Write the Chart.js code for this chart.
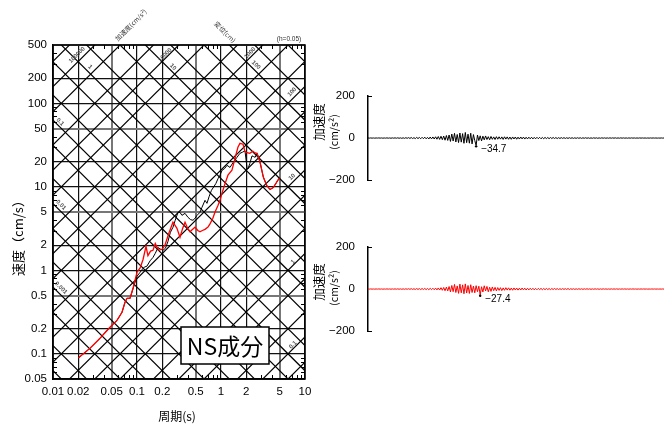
<!DOCTYPE html>
<html><head><meta charset="utf-8">
<script src="https://cdn.jsdelivr.net/npm/chart.js"></script>
<style>
html,body{margin:0;padding:0;background:#fff;}
#wrap{position:relative;width:664px;height:424px;overflow:hidden;background:#fff;}
canvas{position:absolute;}
</style></head><body>
<div id="wrap">
<canvas id="spec" style="left:0;top:0" width="320" height="424"></canvas>
<canvas id="acc1" style="left:300px;top:70px" width="364" height="130"></canvas>
<canvas id="acc2" style="left:300px;top:221px" width="364" height="130"></canvas>
</div>
<script>
// ---- tick labels ----
const periodTicks = [0.01,0.02,0.05,0.1,0.2,0.5,1,2,5,10];
const velocityTicks = [0.05,0.1,0.2,0.5,1,2,5,10,20,50,100,200,500];
// tripartite diagonal grid levels
const dispLevels = [0.0001,0.0002,0.0005,0.001,0.002,0.005,0.01,0.02,0.05,0.1,0.2,0.5,1,2,5,10,20,50,100,200,500,1000];
const accLevels = [0.01,0.02,0.05,0.1,0.2,0.5,1,2,5,10,20,50,100,200,500,1000,2000,5000,10000,20000,50000,100000,200000,500000,1000000];
const dispLabelsTopLeft = ['1','10','100','0.1','0.01','0.001'];
const accLabelsTopRight = ['100000','10000','1000','100','10','1','0.1'];

// ---- velocity response spectra ----
const blackPeriods = [0.02,0.0276,0.0363,0.0476,0.0578,0.0663,0.072,0.076,0.0826,0.0896,
 0.1,0.109,0.118,0.124,0.131,0.143,0.155,0.165,0.178,0.19,
 0.204,0.218,0.233,0.25,0.268,0.285,0.308,0.325,0.343,0.373,
 0.405,0.435,0.464,0.49,0.518,0.562,0.594,0.645,0.681,0.72,
 0.77,0.83,0.87,0.92,0.973,1.03,1.1,1.18,1.28,1.39,
 1.55,1.68,1.8,1.93,2.04,2.1,2.2,2.34,2.45,2.55,
 2.69,2.91,3.19,3.5,3.83,4.19,4.93];
const blackVelocity = [0.089,0.117,0.154,0.208,0.252,0.315,0.415,0.463,0.463,0.6,
 0.85,0.95,1.06,1.1,1.12,1.3,1.43,1.6,1.87,1.8,
 1.74,1.84,2.2,2.86,3.28,3.98,4.95,4.95,4.56,4.82,
 4.31,4.05,3.98,4.2,4.56,4.95,5.69,6.9,6.35,7.6,
 9.1,10.2,11.0,12.5,13.8,15.8,16.5,18.1,17.1,19.5,
 22.6,25.2,26.0,27.0,17.0,16.5,19.0,23.5,23.0,22.6,
 25.2,19.9,13.1,10.4,9.3,9.8,12.7];
const redPeriods = [0.02,0.0276,0.0363,0.0476,0.0578,0.0663,0.072,0.076,0.0826,0.0896,
 0.1,0.109,0.118,0.128,0.135,0.145,0.155,0.165,0.173,0.183,
 0.2,0.215,0.24,0.268,0.299,0.325,0.35,0.373,0.4,0.427,
 0.46,0.49,0.53,0.562,0.6,0.645,0.7,0.74,0.8,0.849,
 0.92,0.973,1.05,1.12,1.21,1.35,1.47,1.59,1.68,1.83,
 1.92,2.0,2.2,2.4,2.55,2.69,2.91,3.19,3.5,3.83,
 4.19,4.93];
const redVelocity = [0.089,0.117,0.154,0.208,0.252,0.315,0.415,0.463,0.463,0.61,
 0.95,1.07,1.35,1.94,1.5,1.7,1.74,2.1,1.9,1.74,
 1.8,2.0,2.8,3.77,3.19,2.49,3.2,3.77,3.2,2.9,
 3.1,3.28,3.0,2.9,3.0,3.1,3.3,3.6,4.2,5.0,
 6.0,6.9,9.0,11.0,13.8,15.8,22.0,29.8,33.2,32.4,
 27.0,25.9,25.2,26.7,25.5,25.2,19.9,13.1,10.4,9.3,
 9.8,12.7];

// ---- acceleration time histories (cm/s^2) ----
const accTicks = [-200,0,200];
const accBlack = [
 0.5,-0.4,0.6,-0.5,0.4,-0.6,0.5,-0.3,0.7,-0.5,0.6,-0.8,0.5,-0.6,0.9,-0.7,0.6,-1.0,0.8,-0.6,
 1.0,-0.9,1.2,-1.0,0.8,-1.3,1.1,-1.4,1.6,-1.2,2.0,-1.8,2.4,-2.1,1.8,-2.6,3.0,-2.4,2.8,-3.2,
 3.5,-2.9,4.1,-3.6,3.2,-4.4,4.8,-3.9,5.2,-4.6,6.0,-5.5,7.2,-6.4,8.5,-7.8,9.6,-10.2,12.0,-11.3,
 14.5,-16.0,19.0,-14.2,22.5,-18.8,17.0,-21.5,24.0,-19.5,21.0,-25.0,26.5,-22.0,18.5,-24.5,23.0,-28.0,16.5,-12.0,
 -34.7,14.5,-12.0,10.5,-13.5,9.0,-8.5,10.0,-7.0,6.5,-8.0,7.5,-6.0,5.5,-7.0,6.5,-5.5,6.0,-5.0,5.5,
 -6.5,6.0,-5.0,5.5,-5.8,4.8,-6.0,5.2,-4.5,5.0,-5.5,4.2,-4.8,5.0,-4.0,4.5,-4.8,3.8,-4.2,4.0,
 -3.5,3.8,-4.0,3.2,-3.6,3.5,-3.0,3.2,-3.4,2.8,-3.0,3.0,-2.6,2.5,-2.8,2.4,-2.2,2.6,-2.0,2.2,
 -2.4,1.8,-2.0,2.0,-1.6,1.8,-1.9,1.5,-1.7,1.6,-1.4,1.5,-1.6,1.2,-1.4,1.5,-1.2,1.3,-1.5,1.2,
 -1.0,1.4,-1.1,1.0,-1.3,0.9,-1.1,1.2,-0.9,1.0,-1.2,0.8,-1.0,1.1,-0.8,0.9,-1.0,0.7,-0.9,1.0,
 -0.8,0.9,-0.7,1.0,-0.9,0.7,-0.8,0.9,-0.6,0.8,-0.7,0.6,-0.8,0.7,-0.6,0.8,-0.5,0.6,-0.7,0.5,
 -0.6,0.7,-0.5,0.6,-0.4,0.5,-0.6,0.4,-0.5,0.6,-0.4,0.5,-0.3,0.4,-0.5,0.3,-0.4,0.5,-0.3,0.4];
const accRed = [
 0.4,-0.3,0.5,-0.4,0.3,-0.5,0.4,-0.3,0.6,-0.4,0.5,-0.6,0.4,-0.5,0.7,-0.5,0.5,-0.7,0.6,-0.5,
 0.8,-0.7,0.9,-0.8,0.7,-1.0,0.9,-1.1,1.2,-1.0,1.5,-1.3,1.7,-1.5,1.4,-1.9,2.1,-1.7,2.0,-2.3,
 2.5,-2.1,2.9,-2.6,2.4,-3.0,3.4,-2.8,3.8,-3.3,4.4,-4.0,5.2,-4.6,6.5,-5.8,7.5,-8.0,9.5,-8.8,
 12.0,-13.5,17.0,-12.5,22.0,-16.5,15.0,-20.5,23.5,-18.0,20.0,-22.5,24.5,-19.0,17.0,-21.0,20.5,-16.5,14.0,-18.0,
 16.0,-12.5,13.5,-27.4,11.0,-14.0,15.5,-9.0,12.5,-13.0,8.5,-11.0,10.0,-7.5,8.0,-9.0,7.0,-6.5,6.5,-7.5,
 5.5,-6.0,6.5,-5.0,5.8,-5.5,4.8,-5.6,5.2,-4.6,4.8,-5.0,4.2,-4.6,4.8,-3.8,4.2,-4.5,3.6,-4.0,
 3.8,-3.4,3.6,-3.8,3.0,-3.4,3.2,-2.8,3.0,-3.1,2.6,-2.8,2.8,-2.4,2.3,-2.6,2.2,-2.0,2.4,-1.9,
 2.0,-2.2,1.7,-1.9,1.9,-1.5,1.7,-1.8,2.4,-2.2,1.5,-1.3,1.4,-1.5,1.1,-1.3,1.4,-1.1,1.2,-1.4,
 1.1,-0.9,1.3,-1.0,0.9,-1.2,0.8,-1.0,1.1,-0.8,0.9,-1.1,0.7,-0.9,1.0,-0.7,0.8,-0.9,0.6,-0.8,
 0.9,-0.7,0.8,-0.6,0.9,-0.8,0.6,-0.7,0.8,-0.5,0.7,-0.6,0.5,-0.7,0.6,-0.5,0.7,-0.4,0.5,-0.6,
 0.4,-0.5,0.6,-0.4,0.5,-0.3,0.4,-0.5,0.3,-0.4,0.5,-0.3,0.4,-0.3,0.3,-0.4,0.3,-0.3,0.4,-0.3];

const NUM_FONT = 'Liberation Sans, Arial, sans-serif';
const JP_FONT = '"Noto Sans CJK JP", sans-serif';
const TWO_PI = 2 * Math.PI;

function signif(v){ return Math.round(v / Math.pow(10, Math.floor(Math.log10(v) + 1e-9))); }
function minorValues(lo, hi){
  const out = [];
  for (let e = Math.floor(Math.log10(lo)); e <= Math.ceil(Math.log10(hi)); e++) {
    for (const m of [3,4,6,7,8,9]) { const v = m * Math.pow(10, e); if (v > lo && v < hi) out.push(v); }
  }
  return out;
}

const diagStyle = {borderColor:'#000', borderWidth:1.2, pointRadius:0, fill:false, tension:0, order:3};
const diagSets = [];
dispLevels.forEach(d => diagSets.push(Object.assign({data:[{x:0.01,y:TWO_PI*d/0.01},{x:10,y:TWO_PI*d/10}]}, diagStyle)));
accLevels.forEach(a => diagSets.push(Object.assign({data:[{x:0.01,y:a*0.01/TWO_PI},{x:10,y:a*10/TWO_PI}]}, diagStyle)));

function rotText(ctx, txt, x, y, ang, font, color){
  ctx.save(); ctx.translate(x, y); ctx.rotate(ang);
  ctx.font = font; ctx.fillStyle = color; ctx.textAlign = 'center'; ctx.textBaseline = 'middle';
  ctx.fillText(txt, 0, 0); ctx.restore();
}

const specDecor = {
  id: 'specDecor',
  afterDraw(chart) {
    const {ctx, chartArea: a, scales: {x, y}} = chart;
    ctx.save();
    ctx.strokeStyle = '#000'; ctx.lineWidth = 1;
    ctx.beginPath();
    for (const v of minorValues(0.01, 10)) {
      const px = Math.round(x.getPixelForValue(v)) + 0.5;
      ctx.moveTo(px, a.bottom); ctx.lineTo(px, a.bottom - 4);
      ctx.moveTo(px, a.top); ctx.lineTo(px, a.top + 4);
    }
    for (const v of minorValues(0.05, 500)) {
      const py = Math.round(y.getPixelForValue(v)) + 0.5;
      ctx.moveTo(a.left, py); ctx.lineTo(a.left + 4, py);
      ctx.moveTo(a.right, py); ctx.lineTo(a.right - 4, py);
    }
    ctx.stroke();
    ctx.lineWidth = 1.5;
    ctx.strokeRect(a.left, a.top, a.right - a.left, a.bottom - a.top);

    // small labels on diagonal lines
    const small = 'bold 6px ' + NUM_FONT, sc = '#555';
    const dpos = [[90,67],[173,67],[256,65],[60,122],[61,205],[61,288]];
    dispLabelsTopLeft.forEach((t,i) => rotText(ctx, t, dpos[i][0], dpos[i][1], Math.PI/4, small, sc));
    const apos = [[77,55],[165,55],[250,53],[292,92],[292,177],[293,262],[293,345]];
    accLabelsTopRight.forEach((t,i) => rotText(ctx, t, apos[i][0], apos[i][1], -Math.PI/4, small, sc));
    rotText(ctx, '加速度(cm/s²)', 131, 25, -Math.PI/4, '6.5px ' + JP_FONT, '#333');
    rotText(ctx, '変位(cm)', 225, 32, Math.PI/4, '6.5px ' + JP_FONT, '#333');
    rotText(ctx, '(h=0.05)', 289, 39, 0, '6.5px ' + NUM_FONT, '#333');

    // axis titles
    rotText(ctx, '速度（cm/s）', 18, 235, -Math.PI/2, '13px ' + JP_FONT, '#000');
    rotText(ctx, '周期(s)', 177, 416, 0, '12px ' + JP_FONT, '#000');

    // NS box
    ctx.fillStyle = '#fff'; ctx.fillRect(181, 327, 88, 37);
    ctx.lineWidth = 1.5; ctx.strokeStyle = '#000'; ctx.strokeRect(181, 327, 88, 37);
    rotText(ctx, 'NS成分', 225, 346, 0, '23px ' + JP_FONT, '#000');
    ctx.restore();
  }
};

new Chart(document.getElementById('spec'), {
  type: 'line',
  data: {datasets: [
    {data: redPeriods.map((t,i)=>({x:t, y:redVelocity[i]})), borderColor:'#ff0000', borderWidth:1.3, pointRadius:0, tension:0, order:0},
    {data: blackPeriods.map((t,i)=>({x:t, y:blackVelocity[i]})), borderColor:'#000', borderWidth:1, pointRadius:0, tension:0, order:1},
    ...diagSets
  ]},
  options: {
    responsive:false, animation:false, devicePixelRatio:1,
    layout:{padding:{top:45, right:15, left:0, bottom:0}},
    plugins:{legend:{display:false}, tooltip:{enabled:false}},
    scales:{
      x:{type:'logarithmic', min:0.01, max:10,
        afterBuildTicks:s=>{s.ticks = periodTicks.map(v=>({value:v}));},
        afterFit:s=>{s.height = 45;},
        ticks:{autoSkip:false, maxRotation:0, padding:6, color:'#000', font:{size:11.5, family:NUM_FONT}, callback:v=>String(v)},
        grid:{drawTicks:false, color:c=>signif(c.tick.value)===5?'#777':'#111', lineWidth:c=>signif(c.tick.value)===5?2:1.2},
        border:{display:true, color:'#000', width:1.5}},
      y:{type:'logarithmic', min:0.05, max:500,
        afterBuildTicks:s=>{s.ticks = velocityTicks.map(v=>({value:v}));},
        afterFit:s=>{s.width = 53;},
        ticks:{autoSkip:false, padding:6, color:'#000', font:{size:11.5, family:NUM_FONT}, callback:v=>String(v)},
        grid:{drawTicks:false, color:c=>signif(c.tick.value)===5?'#777':'#111', lineWidth:c=>signif(c.tick.value)===5?2:1.2},
        border:{display:true, color:'#000', width:1.5}}
    }
  },
  plugins:[specDecor]
});

function accDecor(titleY1, titleY2) {
  return {
    id:'accDecor',
    afterDraw(chart) {
      const {ctx, chartArea:a, scales:{x, y}} = chart;
      const ds = chart.data.datasets[0].data;
      ctx.save();
      ctx.strokeStyle = '#000'; ctx.lineWidth = 1;
      ctx.beginPath();
      for (const v of [accTicks[0], accTicks[accTicks.length-1]]) {
        const py = Math.round(y.getPixelForValue(v)) + 0.5;
        ctx.moveTo(a.left, py); ctx.lineTo(a.left + 4, py);
      }
      ctx.stroke();
      rotText(ctx, '加速度', 19, titleY1, -Math.PI/2, '12.5px ' + JP_FONT, '#000');
      rotText(ctx, '(cm/s²)', 34, titleY2, -Math.PI/2, '10.5px ' + JP_FONT, '#000');
      // peak marker
      let idx = 0; ds.forEach((v,i)=>{ if (Math.abs(v) > Math.abs(ds[idx])) idx = i; });
      const px = x.getPixelForValue(idx), py = y.getPixelForValue(ds[idx]);
      ctx.fillStyle = '#000';
      ctx.beginPath(); ctx.arc(px, py + 1, 1.2, 0, TWO_PI); ctx.fill();
      ctx.font = '10px ' + NUM_FONT; ctx.textBaseline = 'middle'; ctx.textAlign = 'left';
      ctx.fillText((ds[idx] < 0 ? '−' : '') + Math.abs(ds[idx]).toFixed(1), px + 5, py + 4);
      ctx.restore();
    }
  };
}

function accChart(id, data, color, t1, t2) {
  return new Chart(document.getElementById(id), {
    type:'line',
    data:{labels: data.map((_,i)=>i), datasets:[{data, borderColor:color, borderWidth:1, pointRadius:0, tension:0}]},
    options:{
      responsive:false, animation:false, devicePixelRatio:1,
      layout:{padding:{top:26, bottom:14, left:0, right:0}},
      plugins:{legend:{display:false}, tooltip:{enabled:false}},
      scales:{
        x:{display:false, offset:false},
        y:{min:-200, max:200,
          afterBuildTicks:s=>{s.ticks = accTicks.map(v=>({value:v}));},
          afterFit:s=>{s.width = 68;},
          ticks:{padding:13, color:'#000', font:{size:11.5, family:NUM_FONT}, callback:v=> v<0 ? '−'+Math.abs(v) : String(v)},
          grid:{drawOnChartArea:false, drawTicks:false},
          border:{display:true, color:'#000', width:1.5}}
      }
    },
    plugins:[accDecor(t1, t2)]
  });
}
accChart('acc1', accBlack, '#000', 52, 62);
accChart('acc2', accRed, '#ff0000', 61, 67);
</script>
</body></html>
